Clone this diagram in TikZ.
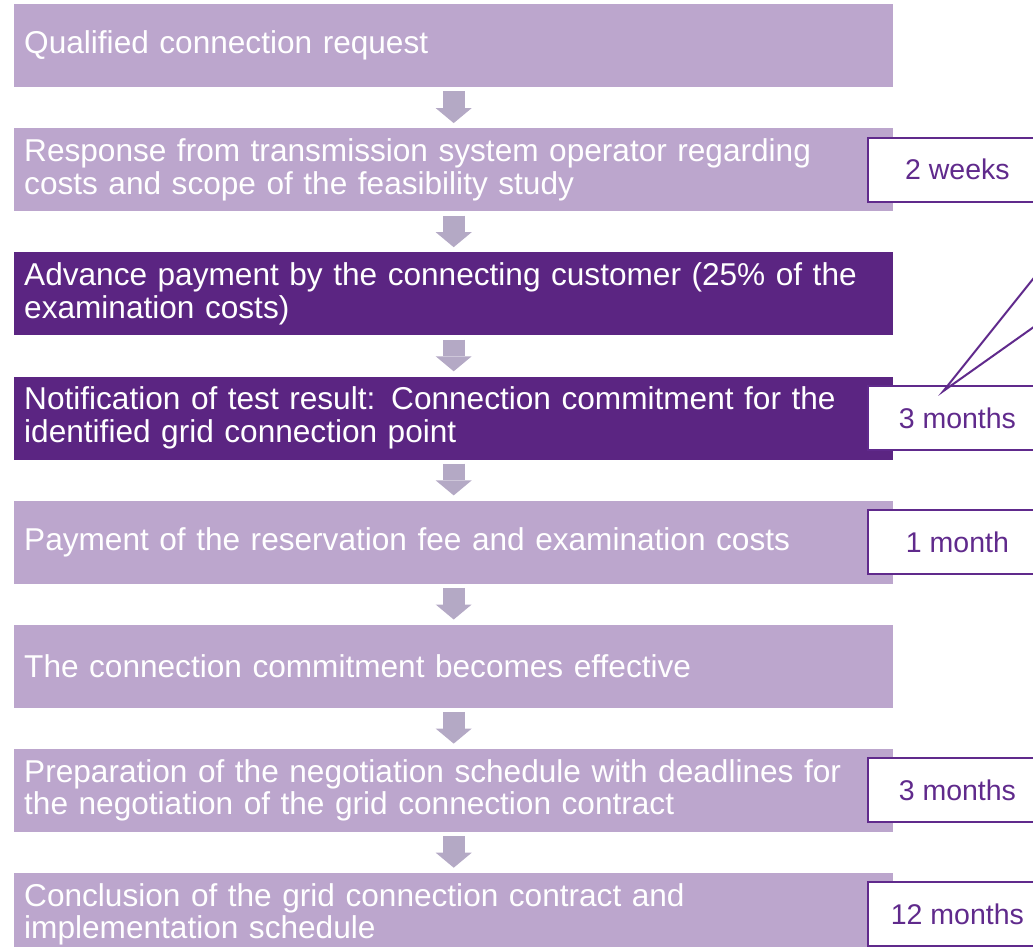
\documentclass[tikz,border=0pt]{standalone}
\usepackage{fontspec}
\setmainfont{Liberation Sans}
\usetikzlibrary{positioning, arrows.meta}

\definecolor{steplight}{RGB}{188,166,205}
\definecolor{stepdark}{RGB}{91,37,130}
\definecolor{flowgray}{RGB}{180,169,197}
\definecolor{timepurple}{RGB}{96,42,140}

\begin{document}
\begin{tikzpicture}[x=1pt, y=1pt,
    stepbox/.style={fill=steplight, text=white, text width=859pt, inner xsep=10pt,
        minimum height=83pt, align=left, font=\fontsize{31.6}{32.5}\selectfont},
    darkstep/.style={stepbox, fill=stepdark},
    timebox/.style={draw=timepurple, line width=2pt, fill=white, text=timepurple,
        minimum width=178pt, minimum height=64pt, anchor=west,
        font=\fontsize{28.5}{30}\selectfont},
    flow/.style={draw=flowgray, line width=22pt,
        -{Triangle[width=36pt, length=15pt, line width=0pt]}},
    node distance=40.7pt
]
    \useasboundingbox (0,0) rectangle (1033,-947);
    \clip (0,0) rectangle (1033,-947);

    % steps of the procedure
    \node[stepbox, anchor=north west] (s1) at (14,-4) {Qualified connection request};
    \node[stepbox, below=of s1] (s2) {Response from transmission system operator regarding\\costs and scope of the feasibility study};
    \node[darkstep, below=of s2] (s3) {Advance payment by the connecting customer (25\% of the\\examination costs)};
    \node[darkstep, below=of s3] (s4) {Notification of test result: Connection commitment for the\\identified grid connection point};
    \node[stepbox, below=of s4] (s5) {Payment of the reservation fee and examination costs};
    \node[stepbox, below=of s5] (s6) {The connection commitment becomes effective};
    \node[stepbox, below=of s6] (s7) {Preparation of the negotiation schedule with deadlines for\\the negotiation of the grid connection contract};
    \node[stepbox, below=of s7] (s8) {Conclusion of the grid connection contract and\\implementation schedule};

    \foreach \a/\b in {s1/s2, s2/s3, s3/s4, s4/s5, s5/s6, s6/s7, s7/s8}
        \draw[flow] ([yshift=-4pt]\a.south) -- ([yshift=5pt]\b.north);

    % deadlines
    \node[timebox] (t2) at ([xshift=-26pt]s2.east) {2 weeks};
    \node[timebox] (t4) at ([xshift=-26pt]s4.east) {3 months};
    \node[timebox] (t5) at ([xshift=-26pt]s5.east) {1 month};
    \node[timebox] (t7) at ([xshift=-26pt]s7.east) {3 months};
    \node[timebox] (t8) at ([xshift=-26pt]s8.east) {12 months};

    % callout tail
    \coordinate (tail) at ([shift={(76pt,-6pt)}]t4.north west);
    \filldraw[draw=timepurple, fill=white, line width=2pt, line join=miter]
        (tail) -- ++(120,85) -- ++(0,65) -- cycle;
\end{tikzpicture}
\end{document}
